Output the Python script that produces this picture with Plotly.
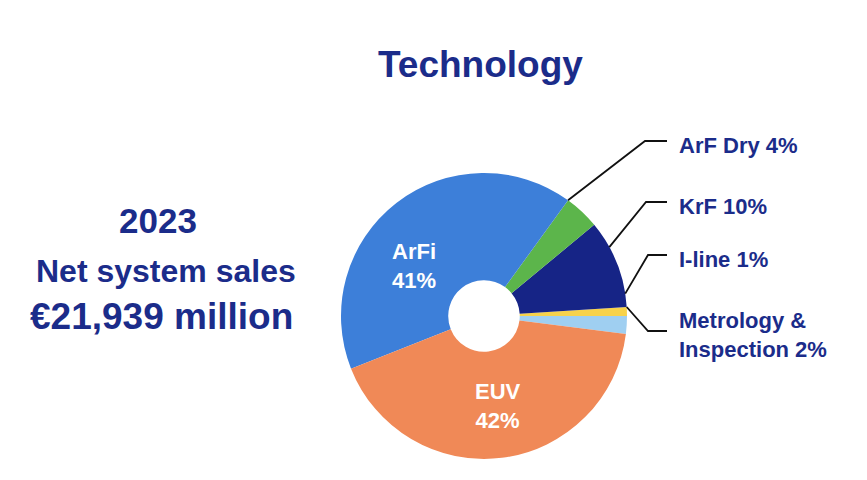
import math
import plotly.graph_objects as go

# ---- data ----
labels = ["Metrology & Inspection", "I-line", "KrF", "ArF Dry", "ArFi", "EUV"]
shares = [2, 1, 10, 4, 41, 42]
colors = ["#9FCFF1", "#F7D24A", "#162486", "#5CB54B", "#3D7FD9", "#F08957"]
outside_names = {"Metrology & Inspection": "Metrology &<br>Inspection", "I-line": "I-line",
                 "KrF": "KrF", "ArF Dry": "ArF Dry"}
title_text = "Technology"
side_lines = ["2023", "Net system sales", "€21,939 million"]

# ---- layout constants (pixels in the screenshot) ----
W, H = 867, 480
OFF = 8  # default page body margin
NAVY = "#1B2C8A"
FONT = "Liberation Sans, Arial, sans-serif"
cx, cy, R = 484, 316, 143
label_pos = {  # elbow x, elbow y, text center y
    "ArF Dry": (645, 141, 145),
    "KrF": (646, 202, 206),
    "I-line": (648, 255, 259),
    "Metrology & Inspection": (648, 331, 335),
}
inside_pos = {"ArFi": (414, 266), "EUV": (498, 406)}
line_end_x = 667
text_x = 677


def px(x):
    return (x - OFF) / W


def py(y):
    return 1 - (y - OFF) / H


fig = go.Figure()
fig.add_trace(go.Pie(
    labels=labels, values=shares, sort=False, direction="counterclockwise",
    rotation=90, hole=0.25,
    marker=dict(colors=colors, line=dict(width=0)),
    textinfo="none",
    domain=dict(x=[px(cx - R), px(cx + R)], y=[py(cy + R), py(cy - R)]),
    showlegend=False, hoverinfo="label+percent",
))

total = sum(shares)
cum = 0
shapes = []
annotations = []
for l, v in zip(labels, shares):
    mid = (cum + v / 2) / total * 2 * math.pi
    cum += v
    if l in inside_pos:
        ix, iy = inside_pos[l]
        annotations.append(dict(
            x=px(ix), y=py(iy), xref="paper", yref="paper", xanchor="center", yanchor="middle",
            text=f"{l}<br>{v}%", showarrow=False, align="center",
            font=dict(family=FONT, size=22, color="white", weight="bold"),
        ))
        continue
    ex, ey, ty = label_pos[l]
    sx = cx + R * math.cos(mid)
    sy = cy - R * math.sin(mid)
    shapes.append(dict(
        type="path", xref="paper", yref="paper",
        path=f"M {px(sx)},{py(sy)} L {px(ex)},{py(ey)} L {px(line_end_x)},{py(ey)}",
        line=dict(color="#111111", width=1.8),
    ))
    annotations.append(dict(
        x=px(text_x), y=py(ty), xref="paper", yref="paper", xanchor="left", yanchor="middle",
        text=f"{outside_names[l]} {v}%", showarrow=False, align="left",
        font=dict(family=FONT, size=22, color=NAVY, weight="bold"),
    ))

annotations.append(dict(
    x=px(480), y=py(64), xref="paper", yref="paper", xanchor="center", yanchor="middle",
    text=title_text, showarrow=False,
    font=dict(family=FONT, size=37, color=NAVY, weight="bold"),
))
side_y = [220, 271, 316]
side_size = [35, 32, 37]
side_x = [158, 166, 161]
for t, y, s, x in zip(side_lines, side_y, side_size, side_x):
    annotations.append(dict(
        x=px(x), y=py(y), xref="paper", yref="paper", xanchor="center", yanchor="middle",
        text=t, showarrow=False,
        font=dict(family=FONT, size=s, color=NAVY, weight="bold"),
    ))

fig.update_layout(
    width=W, height=H, margin=dict(l=0, r=0, t=0, b=0),
    paper_bgcolor="white", plot_bgcolor="white",
    shapes=shapes, annotations=annotations,
)
fig.write_html("out.html")
